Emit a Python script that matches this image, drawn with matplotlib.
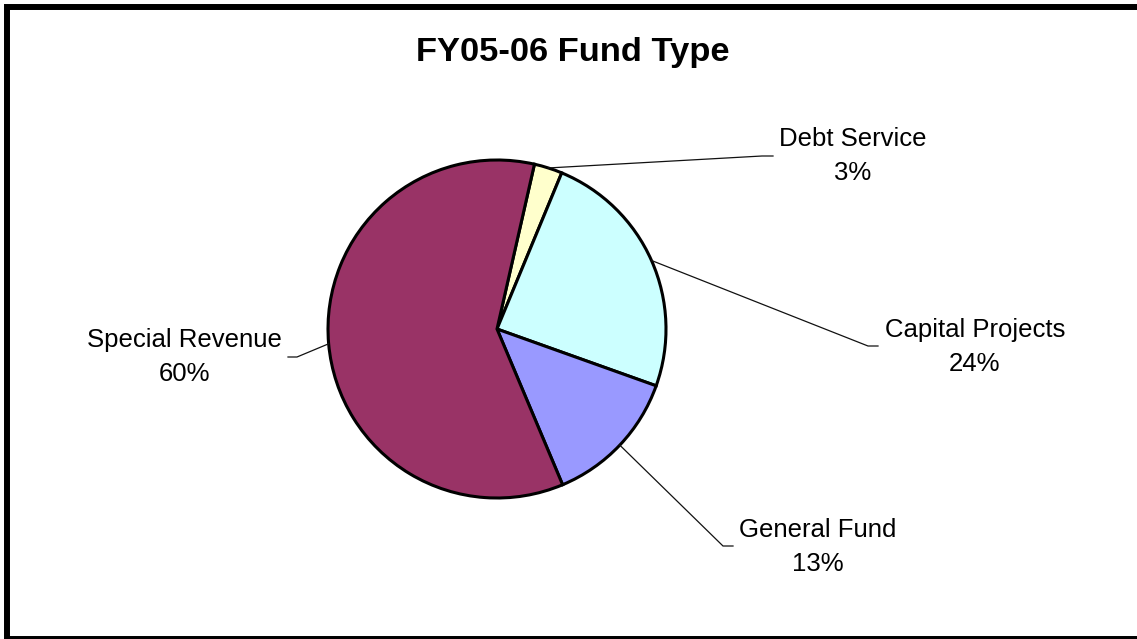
import matplotlib
matplotlib.use("Agg")
import matplotlib.pyplot as plt
from matplotlib.patches import Rectangle
import numpy as np

# Fund type shares, FY05-06 (percent of total)
categories = ["Debt Service", "Capital Projects", "General Fund", "Special Revenue"]
shares = [2.7, 24.2, 13.2, 59.9]
colors = ["#FFFFCC", "#CCFFFF", "#9999FF", "#993366"]
title = "FY05-06 Fund Type"

# Label placement in pixel units (x, first-line baseline y), leader elbow and end
label_pos = [(852.5, 146), (975, 337), (818, 537), (184, 347)]
leader_elbow = [(762, 156), (868, 346), (723, 546), (297, 357)]
leader_end = [(773, 156), (878, 346), (733, 546), (288, 357)]

W, H = 1137, 639
plt.rcParams["font.family"] = ["Liberation Sans", "DejaVu Sans"]

fig = plt.figure(figsize=(W / 100, H / 100), dpi=100)
ax = fig.add_axes([0, 0, 1, 1])


def fy(y):
    # convert a top-down pixel row to the y-up data coordinate
    return H - y


cx, cy, r = 497, fy(329), 169
wedges, _ = ax.pie(
    shares,
    colors=colors,
    startangle=77.2,
    counterclock=False,
    center=(cx, cy),
    radius=r,
    wedgeprops=dict(edgecolor="black", linewidth=2.2),
)

total = sum(shares)
for w, name, v, (tx, ty), (ex, ey), (kx, ky) in zip(
    wedges, categories, shares, label_pos, leader_elbow, leader_end
):
    mid = np.deg2rad((w.theta1 + w.theta2) / 2)
    sx, sy = cx + r * np.cos(mid), cy + r * np.sin(mid)
    ax.plot([sx, ex, kx], [sy, fy(ey), fy(ky)], color="#111111", lw=0.9,
            solid_joinstyle="miter")
    ax.text(tx, fy(ty), name, ha="center", va="baseline", fontsize=18.5,
            color="black")
    ax.text(tx, fy(ty + 34), f"{round(v / total * 100)}%", ha="center",
            va="baseline", fontsize=18.5, color="black")

ax.text(572.5, fy(61), title, ha="center", va="baseline", fontsize=24.8,
        fontweight="bold", color="black")

# chart area border
ax.add_patch(Rectangle((6.5, 0), W + 10, fy(7), fill=False, ec="black",
                       lw=4.3, clip_on=False))

ax.set_xlim(0, W)
ax.set_ylim(0, H)
ax.set_aspect("equal")
ax.axis("off")

fig.savefig("out.png", dpi=100, facecolor="white")
